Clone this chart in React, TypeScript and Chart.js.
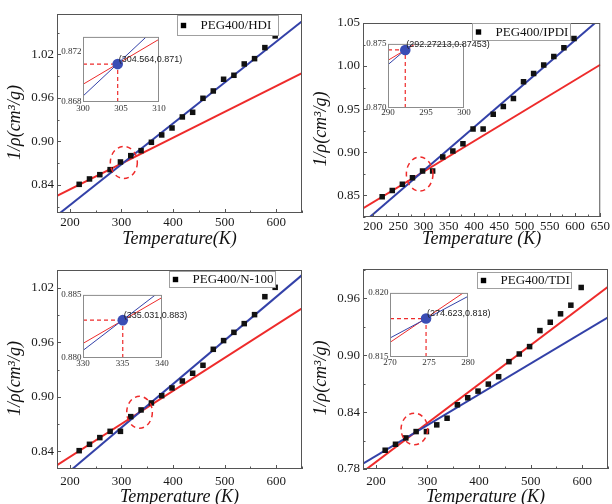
import React, { useEffect, useRef } from 'react';
import { Chart, registerables } from 'chart.js';
Chart.register(...registerables);

// ---------- data ----------
const temps = [218, 238, 258, 278, 298, 318, 338, 358, 378, 398, 418, 438, 458, 478, 498, 518, 538, 558, 578, 598];
const hdiValues = [0.8409, 0.8483, 0.8542, 0.8611, 0.8717, 0.8804, 0.8873, 0.8988, 0.9089, 0.9185, 0.9337, 0.9401, 0.9594, 0.9695, 0.9856, 0.9911, 1.0067, 1.014, 1.0292, 1.0453];
const ipdiValues = [0.8481, 0.8554, 0.8628, 0.8702, 0.878, 0.878, 0.8943, 0.9013, 0.9098, 0.9269, 0.9269, 0.944, 0.9529, 0.9622, 0.9817, 0.9914, 1.0011, 1.0112, 1.0213, 1.0321];
const n100Values = [0.8407, 0.8477, 0.8551, 0.862, 0.862, 0.8782, 0.8856, 0.8933, 0.9013, 0.9098, 0.9175, 0.926, 0.9348, 0.9524, 0.962, 0.9711, 0.9807, 0.9906, 1.0104, 1.0207];
const tdiValues = [0.7998, 0.8061, 0.8128, 0.8195, 0.8195, 0.8266, 0.8336, 0.8478, 0.8552, 0.8622, 0.8696, 0.8774, 0.8933, 0.9014, 0.9092, 0.9261, 0.9349, 0.9438, 0.9529, 0.9716];

// fitted lines, values at fitX
const fitX = [175, 650];
const hdiRedFit = [0.8249, 0.994];
const hdiBlueFit = [0.7981, 1.0655];
const ipdiRedFit = [0.8329, 1.0015];
const ipdiBlueFit = [0.8153, 1.0552];
const n100RedFit = [0.8248, 0.9975];
const n100BlueFit = [0.8062, 1.0342];
const tdiRedFit = [0.7771, 0.9723];
const tdiBlueFit = [0.7856, 0.94];

// intersections
const hdiCross = [304.564, 0.871];
const ipdiCross = [292.27213, 0.87453];
const n100Cross = [335.031, 0.883];
const tdiCross = [274.623, 0.818];

// labels / ticks
const seriesLabels = ['PEG400/HDI', 'PEG400/IPDI', 'PEG400/N-100', 'PEG400/TDI'];
const xTitles = ['Temperature(K)', 'Temperature (K)', 'Temperature (K)', 'Temperature (K)'];
const yTitle = '1/\u03c1(cm\u00b3/g)';
const xTicks100 = [200, 300, 400, 500, 600];
const xTicks50 = [200, 250, 300, 350, 400, 450, 500, 550, 600, 650];
const yTicksHdi = [0.84, 0.9, 0.96, 1.02];
const yTicksIpdi = [0.85, 0.9, 0.95, 1.0, 1.05];
const yTicksN100 = [0.84, 0.9, 0.96, 1.02];
const yTicksTdi = [0.78, 0.84, 0.9, 0.96];

const insetXHdi = [300, 305, 310];
const insetYHdi = [0.868, 0.872];
const insetXIpdi = [290, 295, 300];
const insetYIpdi = [0.87, 0.875];
const insetXN100 = [330, 335, 340];
const insetYN100 = [0.88, 0.885];
const insetXTdi = [270, 275, 280];
const insetYTdi = [0.815, 0.82];

// ---------- styles ----------
const SERIF = "'Liberation Serif', 'Times New Roman', serif";
const SANS = "'Liberation Sans', Arial, sans-serif";
const RED = '#ee2b2b';
const BLUE = '#3341a8';
const DOT = '#3a4db5';
const FRAME = '#555';
const TICK_FONT = 13;

type PanelSpec = {
  x: number; y: number; area: number[];
  xMin: number; xMax: number; yMin: number; yMax: number;
  xTicks: number[]; yTicks: number[]; values: number[]; red: number[]; blue: number[];
  cross: number[]; label: string; xTitle: string;
  legend: number[]; circle: number[]; xLabelPad: number; xTitlePad: number;
  inset: { area: number[]; xMin: number; xMax: number; yMin: number; yMax: number; xTicks: number[]; yTicks: number[]; xPad: number };
};

const panels: PanelSpec[] = [
  {
    x: 0, y: 0, area: [57, 14, 305, 213], xMin: 175, xMax: 650, yMin: 0.8014, yMax: 1.0755,
    xTicks: xTicks100, yTicks: yTicksHdi, values: hdiValues, red: hdiRedFit, blue: hdiBlueFit,
    cross: hdiCross, label: seriesLabels[0], xTitle: xTitles[0],
    legend: [120, 1, 101, 20], circle: [13.5, 16, 0], xLabelPad: 1.5, xTitlePad: 2,
    inset: { area: [83, 36, 159, 102], xMin: 300, xMax: 310, yMin: 0.868, yMax: 0.87315, xTicks: insetXHdi, yTicks: insetYHdi, xPad: 1 },
  },
  {
    x: 306, y: 0, area: [363, 23, 603, 217], xMin: 180, xMax: 650, yMin: 0.8247, yMax: 1.05,
    xTicks: xTicks50, yTicks: yTicksIpdi, values: ipdiValues, red: ipdiRedFit, blue: ipdiBlueFit,
    cross: ipdiCross, label: seriesLabels[1], xTitle: xTitles[1],
    legend: [109, 0, 98, 17], circle: [13.3, 17, 0], xLabelPad: 2, xTitlePad: 1.5,
    inset: { area: [388, 43, 464, 108], xMin: 290, xMax: 300, yMin: 0.87, yMax: 0.875, xTicks: insetXIpdi, yTicks: insetYIpdi, xPad: -1 },
  },
  {
    x: 0, y: 252, area: [57, 270, 305, 469], xMin: 175, xMax: 650, yMin: 0.8205, yMax: 1.0398,
    xTicks: xTicks100, yTicks: yTicksN100, values: n100Values, red: n100RedFit, blue: n100BlueFit,
    cross: n100Cross, label: seriesLabels[2], xTitle: xTitles[2],
    legend: [112, 1, 106, 16], circle: [12.8, 16, 0], xLabelPad: 5, xTitlePad: -4,
    inset: { area: [83, 294, 162, 358], xMin: 330, xMax: 340, yMin: 0.88, yMax: 0.885, xTicks: insetXN100, yTicks: insetYN100, xPad: 0 },
  },
  {
    x: 306, y: 252, area: [363, 269, 611, 469], xMin: 175, xMax: 650, yMin: 0.78, yMax: 0.9911,
    xTicks: xTicks100, yTicks: yTicksTdi, values: tdiValues, red: tdiRedFit, blue: tdiBlueFit,
    cross: tdiCross, label: seriesLabels[3], xTitle: xTitles[3],
    legend: [114, 3, 94, 16], circle: [13.3, 15.8, -4], xLabelPad: 5, xTitlePad: -4,
    inset: { area: [390, 292, 468, 357], xMin: 270, xMax: 280, yMin: 0.815, yMax: 0.82, xTicks: insetXTdi, yTicks: insetYTdi, xPad: 0 },
  },
];

const CW = 306;
const CH = 252;

function minorsOf(major: number[], lo: number, hi: number) {
  const out: number[] = [];
  const step = major[1] - major[0];
  const first = major[0] - step / 2;
  if (first >= lo) out.push(first);
  for (let i = 0; i < major.length - 1; i++) out.push((major[i] + major[i + 1]) / 2);
  const last = major[major.length - 1] + step / 2;
  if (last <= hi) out.push(last);
  return out;
}

function lineData(v: number[]) {
  return fitX.map((x, i) => ({ x, y: v[i] }));
}

function mainConfig(p: PanelSpec): any {
  const [L, T, R, B] = p.area;
  const padTop = T - p.y;
  const padRight = p.x + CW - R;
  const yw = L - p.x;
  const xh = p.y + CH - B;
  const pts = temps.map((t, i) => ({ x: t, y: p.values[i] }));
  const xMinor = minorsOf(p.xTicks, p.xMin, p.xMax);
  const yMinor = minorsOf(p.yTicks, p.yMin, p.yMax);

  const decor = {
    id: 'decor',
    afterDatasetsDraw(chart: any) {
      const { ctx, chartArea: a, scales } = chart;
      const sx = scales.x, sy = scales.y;
      ctx.save();
      // dashed circle around the crossing point
      ctx.strokeStyle = RED;
      ctx.lineWidth = 1.5;
      ctx.setLineDash([5, 4]);
      ctx.beginPath();
      ctx.ellipse(sx.getPixelForValue(p.cross[0]), sy.getPixelForValue(p.cross[1]) + p.circle[2], p.circle[0], p.circle[1], 0, 0, Math.PI * 2);
      ctx.stroke();
      ctx.setLineDash([]);
      // frame
      ctx.strokeStyle = FRAME;
      ctx.lineWidth = 1;
      ctx.strokeRect(a.left + 0.5, a.top + 0.5, a.right - a.left - 1, a.bottom - a.top - 1);
      // inward ticks
      ctx.beginPath();
      const tickX = (v: number, len: number) => {
        const px = Math.round(sx.getPixelForValue(v)) + 0.5;
        ctx.moveTo(px, a.bottom);
        ctx.lineTo(px, a.bottom - len);
      };
      const tickY = (v: number, len: number) => {
        const py = Math.round(sy.getPixelForValue(v)) + 0.5;
        ctx.moveTo(a.left, py);
        ctx.lineTo(a.left + len, py);
      };
      p.xTicks.forEach((v) => tickX(v, 4));
      xMinor.forEach((v) => tickX(v, 2.5));
      p.yTicks.forEach((v) => tickY(v, 4));
      yMinor.forEach((v) => tickY(v, 2.5));
      ctx.stroke();
      // legend
      const [dx, dy, w, h] = p.legend;
      const lx = Math.round(a.left + dx) + 0.5;
      const ly = Math.round(a.top + dy) + 0.5;
      ctx.fillStyle = '#fff';
      ctx.fillRect(lx, ly, w, h);
      ctx.strokeStyle = '#a0a0a0';
      ctx.strokeRect(lx, ly, w, h);
      ctx.fillStyle = '#000';
      ctx.fillRect(lx + 6 - 2.7, ly + h / 2 - 2.7, 5.4, 5.4);
      ctx.font = `13px ${SERIF}`;
      ctx.textBaseline = 'middle';
      ctx.textAlign = 'left';
      ctx.fillStyle = '#111';
      ctx.fillText(p.label, lx + 23, ly + h / 2 + 0.5);
      ctx.restore();
    },
  };

  return {
    type: 'scatter',
    data: {
      datasets: [
        { data: pts, pointStyle: 'rect', pointRadius: 3.9, backgroundColor: '#111', borderWidth: 0 },
        { data: lineData(p.blue), showLine: true, borderColor: BLUE, borderWidth: 2, pointRadius: 0 },
        { data: lineData(p.red), showLine: true, borderColor: RED, borderWidth: 2, pointRadius: 0 },
      ],
    },
    options: {
      responsive: false,
      maintainAspectRatio: false,
      animation: false,
      devicePixelRatio: 1,
      events: [],
      layout: { padding: { left: 0, top: padTop, right: padRight, bottom: 0 } },
      plugins: { legend: { display: false }, tooltip: { enabled: false } },
      scales: {
        x: {
          type: 'linear', min: p.xMin, max: p.xMax,
          grid: { display: false, drawTicks: false }, border: { display: false },
          afterBuildTicks: (s: any) => { s.ticks = p.xTicks.map((v) => ({ value: v })); },
          afterFit: (s: any) => { s.height = xh; },
          ticks: { padding: p.xLabelPad, autoSkip: false, maxRotation: 0, color: '#1a1a1a', font: { family: SERIF, size: TICK_FONT }, callback: (v: any) => String(v) },
          title: { display: true, text: p.xTitle, color: '#111', font: { family: SERIF, size: 18, style: 'italic' }, padding: { top: 0, bottom: p.xTitlePad } },
        },
        y: {
          type: 'linear', min: p.yMin, max: p.yMax,
          grid: { display: false, drawTicks: false }, border: { display: false },
          afterBuildTicks: (s: any) => { s.ticks = p.yTicks.map((v) => ({ value: v })); },
          afterFit: (s: any) => { s.width = yw; },
          ticks: { padding: 3, autoSkip: false, color: '#1a1a1a', font: { family: SERIF, size: TICK_FONT }, callback: (v: any) => Number(v).toFixed(2) },
          title: { display: true, text: yTitle + '    ', color: '#111', font: { family: SERIF, size: 18, style: 'italic' }, padding: { top: 4, bottom: 0 } },
        },
      },
    },
    plugins: [decor],
  };
}

const INS_L = 28, INS_T = 6, INS_R = 28, INS_B = 14;

function insetBox(p: PanelSpec) {
  const [L, T, R, B] = p.inset.area;
  return { x: L - INS_L, y: T - INS_T, w: R - L + INS_L + INS_R, h: B - T + INS_T + INS_B };
}

function insetConfig(p: PanelSpec): any {
  const ins = p.inset;
  const [cx, cy] = p.cross;
  const deco = {
    id: 'insetDeco',
    beforeDatasetsDraw(chart: any) {
      const { ctx, chartArea: a } = chart;
      ctx.save();
      ctx.fillStyle = '#fff';
      ctx.fillRect(a.left, a.top, a.right - a.left, a.bottom - a.top);
      ctx.restore();
    },
    afterDatasetsDraw(chart: any) {
      const { ctx, chartArea: a } = chart;
      ctx.save();
      ctx.strokeStyle = '#8c8c8c';
      ctx.lineWidth = 1;
      ctx.strokeRect(a.left + 0.5, a.top + 0.5, a.right - a.left - 1, a.bottom - a.top - 1);
      ctx.restore();
    },
    afterDraw(chart: any) {
      const { ctx, scales } = chart;
      const px = scales.x.getPixelForValue(cx);
      const py = scales.y.getPixelForValue(cy);
      ctx.save();
      ctx.font = `9px ${SANS}`;
      ctx.fillStyle = '#222';
      ctx.textBaseline = 'middle';
      ctx.textAlign = 'left';
      ctx.fillText(`(${cx},${cy})`, px + 1, py - 5);
      ctx.restore();
    },
  };
  return {
    type: 'scatter',
    data: {
      datasets: [
        { data: [{ x: cx, y: cy }], pointRadius: 5.3, backgroundColor: DOT, borderWidth: 0, clip: false },
        { data: [{ x: ins.xMin, y: cy }, { x: cx, y: cy }], showLine: true, borderColor: RED, borderWidth: 1.2, borderDash: [4, 3], pointRadius: 0 },
        { data: [{ x: cx, y: ins.yMin }, { x: cx, y: cy }], showLine: true, borderColor: RED, borderWidth: 1.2, borderDash: [4, 3], pointRadius: 0 },
        { data: lineData(p.blue), showLine: true, borderColor: BLUE, borderWidth: 1, pointRadius: 0 },
        { data: lineData(p.red), showLine: true, borderColor: RED, borderWidth: 1, pointRadius: 0 },
      ],
    },
    options: {
      responsive: false,
      maintainAspectRatio: false,
      animation: false,
      devicePixelRatio: 1,
      events: [],
      layout: { padding: { left: 0, top: INS_T, right: INS_R, bottom: 0 } },
      plugins: { legend: { display: false }, tooltip: { enabled: false } },
      scales: {
        x: {
          type: 'linear', min: ins.xMin, max: ins.xMax,
          grid: { display: false, drawTicks: false }, border: { display: false },
          afterBuildTicks: (s: any) => { s.ticks = ins.xTicks.map((v) => ({ value: v })); },
          afterFit: (s: any) => { s.height = INS_B; },
          ticks: { padding: ins.xPad, autoSkip: false, maxRotation: 0, color: '#333', font: { family: SERIF, size: 9 }, callback: (v: any) => String(v) },
        },
        y: {
          type: 'linear', min: ins.yMin, max: ins.yMax,
          grid: { display: false, drawTicks: false }, border: { display: false },
          afterBuildTicks: (s: any) => { s.ticks = ins.yTicks.map((v) => ({ value: v })); },
          afterFit: (s: any) => { s.width = INS_L; },
          ticks: { padding: 1.5, autoSkip: false, color: '#333', font: { family: SERIF, size: 9 }, callback: (v: any) => Number(v).toFixed(3) },
        },
      },
    },
    plugins: [deco],
  };
}

const boxes = [
  ...panels.map((p) => ({ x: p.x, y: p.y, w: CW, h: CH })),
  ...panels.map((p) => insetBox(p)),
];

export default function App() {
  const refs = useRef<(HTMLCanvasElement | null)[]>([]);
  useEffect(() => {
    const configs = [...panels.map((p) => mainConfig(p)), ...panels.map((p) => insetConfig(p))];
    const charts = configs.map((c, i) => new Chart(refs.current[i] as HTMLCanvasElement, c));
    return () => charts.forEach((c) => c.destroy());
  }, []);
  return (
    <div style={{ position: 'fixed', left: 0, top: 0, width: 612, height: 504, background: '#fff', overflow: 'hidden' }}>
      {boxes.map((b, i) => (
        <canvas
          key={i}
          ref={(el) => { refs.current[i] = el; }}
          width={b.w}
          height={b.h}
          style={{ position: 'absolute', left: b.x, top: b.y, width: b.w, height: b.h }}
        />
      ))}
    </div>
  );
}
